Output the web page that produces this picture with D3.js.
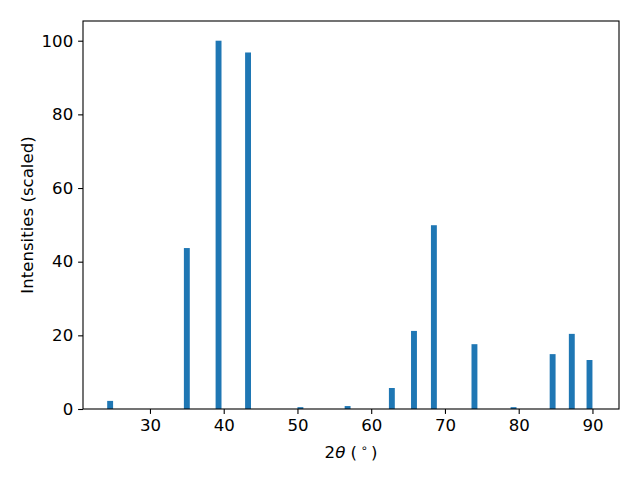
<!DOCTYPE html>
<html>
<head>
<meta charset="utf-8">
<script src="https://cdn.jsdelivr.net/npm/d3@7"></script>
<style>
  body { margin: 0; background: #fff; }
  svg text { font-family: "DejaVu Sans", sans-serif; }
</style>
</head>
<body>
<svg id="chart" width="640" height="480"></svg>
<script>
// peak positions (2theta, degrees) and scaled intensities
const twoTheta = [24.6, 35.0, 39.3, 43.3, 50.4, 56.8, 62.8, 65.8, 68.5, 74.0, 79.3, 84.6, 87.2, 89.6];
const intensity = [2.2, 43.7, 100, 96.8, 0.5, 0.8, 5.7, 21.2, 49.9, 17.6, 0.5, 14.9, 20.4, 13.3];
const xTicks = [30, 40, 50, 60, 70, 80, 90];
const yTicks = [0, 20, 40, 60, 80, 100];
const barWidth = 0.8;

const margin = {left: 83, right: 21, top: 21, bottom: 71};
const W = 640, H = 480;
const svg = d3.select('#chart');

const x = d3.scaleLinear().domain([20.92, 93.6]).range([margin.left, W - margin.right]);
const y = d3.scaleLinear().domain([0, 105.35]).range([H - margin.bottom, margin.top]);

// bars
svg.append('g').selectAll('rect')
  .data(twoTheta.map((t, i) => ({t, v: intensity[i]})))
  .join('rect')
  .attr('x', d => x(d.t - barWidth / 2))
  .attr('width', d => x(d.t + barWidth / 2) - x(d.t - barWidth / 2))
  .attr('y', d => y(d.v))
  .attr('height', d => y(0) - y(d.v))
  .attr('fill', '#1f77b4');

// axes
const xAxis = svg.append('g')
  .attr('transform', `translate(0,${H - margin.bottom})`)
  .call(d3.axisBottom(x).tickValues(xTicks).tickSize(4.9).tickPadding(4.9));
const yAxis = svg.append('g')
  .attr('transform', `translate(${margin.left},0)`)
  .call(d3.axisLeft(y).tickValues(yTicks).tickSize(4.9).tickPadding(4.9));

[xAxis, yAxis].forEach(a => {
  a.select('.domain').remove();
  a.selectAll('line').attr('stroke', '#000').attr('stroke-width', 1.1);
  a.selectAll('text').attr('font-size', '16.6px').attr('fill', '#000')
    .attr('font-family', '"DejaVu Sans", sans-serif');
});

// frame
svg.append('rect')
  .attr('x', margin.left).attr('y', margin.top)
  .attr('width', W - margin.left - margin.right)
  .attr('height', H - margin.top - margin.bottom)
  .attr('fill', 'none').attr('stroke', '#000').attr('stroke-width', 1.1);

// labels
const xl = svg.append('text')
  .attr('x', (margin.left + W - margin.right) / 2).attr('y', 458)
  .attr('text-anchor', 'middle').attr('font-size', '16.6px');
xl.append('tspan').text('2');
xl.append('tspan').attr('font-style', 'italic').text('θ');
xl.append('tspan').text(' (\u2009');
xl.append('tspan').attr('font-size', '11.5px').attr('dy', -6).text('∘');
xl.append('tspan').attr('dy', 6).text('\u2009)');

svg.append('text')
  .attr('transform', `translate(33,${(margin.top + H - margin.bottom) / 2}) rotate(-90)`)
  .attr('text-anchor', 'middle').attr('font-size', '16.6px')
  .text('Intensities (scaled)');
</script>
</body>
</html>
